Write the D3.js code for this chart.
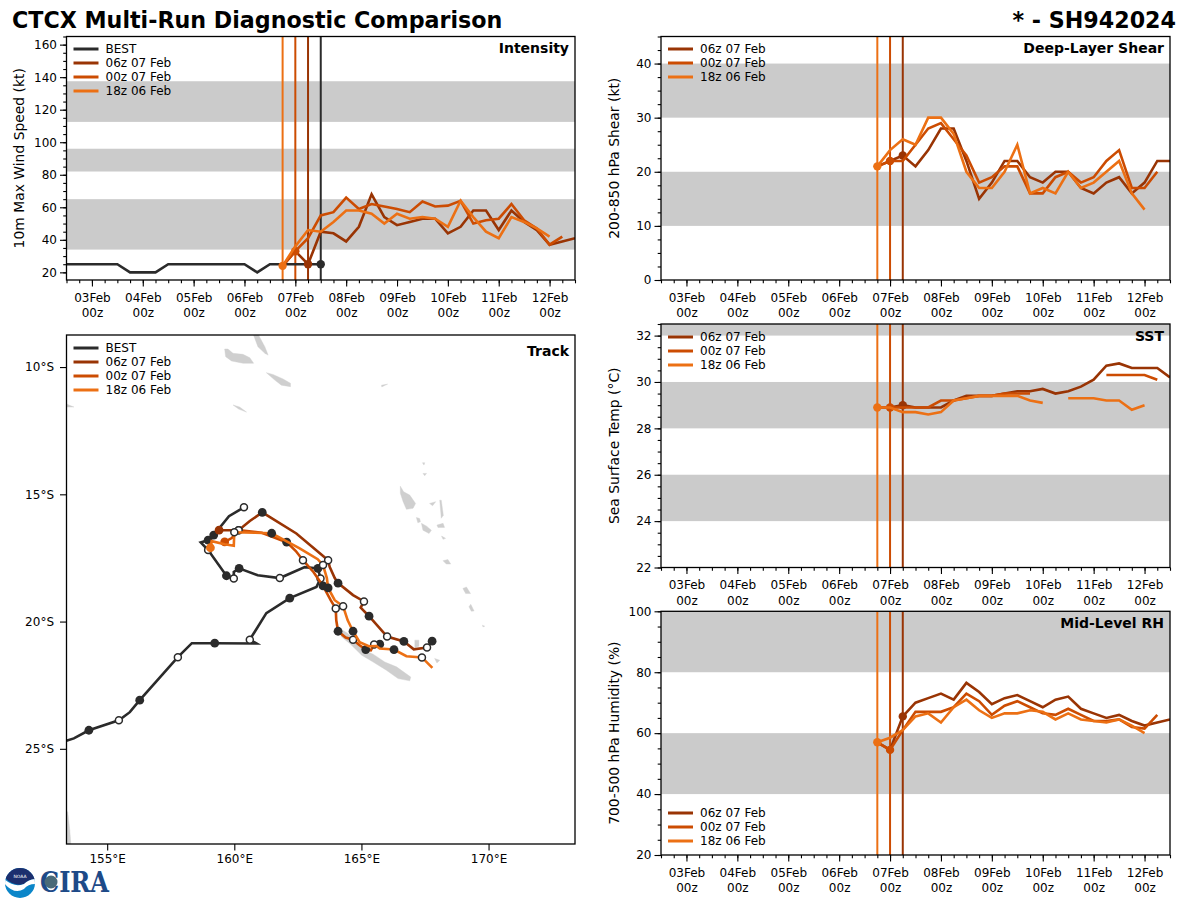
<!DOCTYPE html>
<html><head><meta charset="utf-8">
<script src="https://cdn.jsdelivr.net/npm/d3@7"></script>
<style>
html,body{margin:0;padding:0;background:#fff}
svg{display:block}
text{font-family:"DejaVu Sans",sans-serif;fill:#000}
</style></head><body><div id="chart"></div>
<script>
// ---------- labels ----------
const runNames = ["06z 07 Feb","00z 07 Feb","18z 06 Feb"];
const runColors = ["#993404","#cc4c02","#ec7014"];
const bestName = "BEST", bestColor = "#2b2b2b";
const mainTitle = "CTCX Multi-Run Diagnostic Comparison", stormTitle = "* - SH942024";
const dayTicks = ["2024-02-03","2024-02-04","2024-02-05","2024-02-06","2024-02-07","2024-02-08","2024-02-09","2024-02-10","2024-02-11","2024-02-12"];
const timeDomain = ["2024-02-02T12:00Z","2024-02-12T12:00Z"];
const runInit = ["2024-02-07T06:00Z","2024-02-07T00:00Z","2024-02-06T18:00Z"];
const seriesStart = "2024-02-06T18:00Z";
const bestStart = "2024-02-02T12:00Z";

// ---------- intensity (kt), 6-hourly ----------
const bestWind = [25,25,25,25,25,20,20,20,25,25,25,25,25,25,25,20,25,25,25,25,25];
const wind06 = [24,33,25,45,44,39,48,68,54,49,51,53,53,44,48,58,58,46,58,51,46,37,39,41];
const wind00 = [24,33,41,55,57,66,59,62,60.5,59,57,63.5,60.5,61,64,50,52,53,62,52,47,37,42];
const wind18 = [24,36,46,45,51,58,58,56,50,56,53,54,53,48,64,54,45,41,54,51,47,42];
const windBands = [[34,65],[82,96],[112.5,137.5]];
// ---------- shear (kt) ----------
const shear06 = [21,22,23,21,24,28,28,22,15,18,22,22,19,18,20,20,17,16,18,19,16,18,22,22];
const shear00 = [21,22,22,25,28,29,26,23,18,19,21,21,16,16,19,20,18,19,22,24,17,17,20];
const shear18 = [21,24,26,25,30,30,27,20,17,17,20,25,16,17,16,20,17,18,20,22,16,13];
const shearBands = [[10,20],[30,40]];
// ---------- SST (C) ----------
const sst06 = [28.9,28.9,29.0,28.9,28.9,28.9,29.2,29.4,29.4,29.4,29.5,29.6,29.6,29.7,29.5,29.6,29.8,30.1,30.7,30.8,30.6,30.6,30.6,30.2];
const sst00 = [28.9,28.9,28.9,28.9,28.9,29.2,29.2,29.3,29.4,29.4,29.5,29.5,29.5,null,null,null,null,null,30.3,30.3,30.3,30.3,30.1];
const sst18 = [28.9,28.9,28.7,28.7,28.6,28.7,29.2,29.3,29.4,29.4,29.4,29.4,29.2,29.1,null,29.3,29.3,29.3,29.2,29.2,28.8,29.0];
const sstBands = [[24,26],[28,30],[32,34]];
// ---------- RH (%) ----------
const rh06 = [57,54.5,65.5,70,71.5,73,71,76.5,73.5,69.5,71.5,72.5,70.5,68.5,71,72,68,66.5,65,66,64,62.5,63.5,64.5];
const rh00 = [57,54.5,61,67,67,67,68.5,73,70.5,66,69,70.5,68.5,66.5,66,68,66,64,64,64.5,62,61.5,66];
const rh18 = [57,58.5,61,65.5,66.5,63.5,68.5,71,67.5,65,66.5,66.5,67.5,67,64.5,66.5,64.5,64,63.5,64.5,62.5,60];
const rhBands = [[40,60],[80,100]];

// ---------- tracks: lon, lat, marker (0 none, 1 filled, 2 open, 3 run start) ----------
const bestLon = [153.2,153.69,154.28,155.46,155.89,156.28,157.78,158.33,159.23,160.87,160.61,161.26,162.18,163.23,163.39,163.29,162.77,161.79,160.92,160.19,159.98,159.98,159.69,158.97,158.68,158.97,159.19,159.79,160.38];
const bestLat = [-24.74,-24.59,-24.27,-23.88,-23.56,-23.09,-21.40,-20.85,-20.85,-20.86,-20.71,-19.67,-19.08,-18.64,-18.31,-17.91,-17.86,-18.29,-18.18,-17.91,-18.05,-18.31,-18.20,-17.19,-16.89,-16.80,-16.60,-15.86,-15.51];
const bestMark = [0,0,1,2,0,1,2,0,1,0,2,0,1,0,2,1,0,2,0,1,0,2,1,2,0,1,1,0,2];

const track06Lon = [159.40,159.90,160.17,160.61,161.10,162.44,163.69,163.75,163.95,164.08,164.67,165.10,164.97,165.30,166.01,166.67,167.06,167.58,167.78];
const track06Lat = [-16.41,-16.41,-16.41,-16.05,-15.71,-16.54,-17.59,-17.85,-18.29,-18.49,-18.96,-19.21,-19.45,-19.79,-20.59,-20.78,-21.09,-21.02,-20.77];
const track06Mark = [3,0,2,0,1,0,2,0,0,1,0,2,0,1,2,1,0,2,1];

const track00Lon = [159.62,159.90,160.17,161.08,162.06,162.42,162.70,163.12,163.49,163.79,163.99,164.01,164.08,164.38,164.67,164.93,165.17,165.37,165.50,165.72];
const track00Lat = [-16.87,-16.72,-16.41,-16.51,-16.88,-17.23,-17.59,-18.06,-18.60,-19.16,-19.49,-19.95,-20.38,-20.63,-20.71,-20.93,-21.10,-21.13,-20.90,-20.89];
const track00Mark = [3,0,2,0,1,0,2,0,1,0,2,0,1,0,2,0,1,0,2,1];

const track18Lon = [159.06,159.11,159.62,159.98,160.00,160.80,161.47,162.57,163.28,163.49,163.64,163.69,163.95,164.28,164.46,164.67,164.93,165.29,165.59,165.72,166.28,166.77,167.38,167.79];
const track18Lat = [-17.10,-16.84,-16.96,-17.02,-16.49,-16.51,-16.53,-17.12,-17.55,-17.78,-18.29,-18.68,-19.16,-19.40,-19.95,-20.38,-20.81,-20.97,-20.96,-21.06,-21.10,-21.36,-21.41,-21.82];
const track18Mark = [3,0,0,0,2,0,1,0,0,2,0,1,0,2,0,1,0,0,0,0,1,0,2,0];

// ---------- background land outlines (lon, lat) ----------
const landOutlines = [
 [[159.62,-9.29],[159.75,-9.29],[159.95,-9.46],[160.34,-9.50],[160.61,-9.63],[160.76,-9.85],[160.34,-9.85],[159.89,-9.76],[159.66,-9.59]],
 [[160.74,-8.70],[160.93,-8.70],[161.20,-9.20],[161.33,-9.53],[161.20,-9.46],[160.93,-9.20]],
 [[161.26,-10.22],[161.52,-10.29],[161.92,-10.47],[162.21,-10.64],[162.21,-10.77],[161.85,-10.71],[161.59,-10.51]],
 [[165.79,-10.71],[166.03,-10.67],[165.80,-10.78]],
 [[159.95,-11.49],[160.21,-11.57],[160.48,-11.77],[160.17,-11.65]],
 [[153.40,-11.45],[153.69,-11.57],[153.40,-11.57]],
 [[166.53,-14.68],[166.66,-14.90],[166.90,-15.03],[167.13,-15.36],[167.03,-15.55],[166.77,-15.59],[166.64,-15.29],[166.53,-14.96]],
 [[167.16,-15.91],[167.29,-15.95],[167.32,-16.08],[167.22,-16.12]],
 [[167.36,-16.14],[167.56,-16.25],[167.75,-16.41],[167.66,-16.54],[167.42,-16.41]],
 [[167.68,-15.36],[167.92,-15.29],[167.80,-15.45]],
 [[167.97,-16.21],[168.21,-16.14],[168.27,-16.30],[168.01,-16.30]],
 [[168.15,-16.64],[168.31,-16.73],[168.21,-16.77]],
 [[168.21,-17.61],[168.40,-17.56],[168.51,-17.74],[168.34,-17.74]],
 [[168.99,-18.70],[169.13,-18.64],[169.29,-18.90],[169.10,-18.90]],
 [[169.23,-19.42],[169.30,-19.32],[169.43,-19.58],[169.32,-19.59]],
 [[169.76,-20.14],[169.85,-20.18],[169.78,-20.21]],
 [[167.40,-13.76],[167.49,-13.76],[167.46,-13.85]],
 [[167.42,-14.18],[167.56,-14.18],[167.49,-14.27]],
 [[168.08,-15.23],[168.14,-15.23],[168.22,-15.82],[168.14,-15.94]],
 [[164.15,-20.27],[164.47,-20.47],[164.87,-20.86],[165.13,-21.13],[165.46,-21.28],[165.92,-21.59],[166.38,-21.78],[166.94,-22.18],[166.90,-22.33],[166.44,-22.24],[165.98,-21.91],[165.46,-21.59],[165.01,-21.32],[164.54,-20.86],[164.21,-20.60]],
 [[167.10,-20.73],[167.26,-20.73],[167.26,-20.97],[167.10,-21.02]],
 [[167.88,-21.45],[168.08,-21.52],[167.97,-21.63]],
 [[153.40,-27.42],[153.45,-27.50],[153.53,-28.20],[153.57,-28.74],[153.40,-28.74]]
];
const lonTicks = [155,160,165,170];
const latTicks = [-10,-15,-20,-25];

// ---------- drawing ----------
const W=1200,H=900,FONT_TICK=12,FONT_LABEL=13.9,LW=2.6;
const svg=d3.select("#chart").append("svg").attr("width",W).attr("height",H);
const parseT=s=>new Date(s);
const x0=parseT(timeDomain[0]),x1=parseT(timeDomain[1]);
const sixH=6*3600*1000;
const minorT=d3.range(0,41).map(i=>new Date(+x0+i*sixH));
const majorT=dayTicks.map(d=>new Date(d+"T00:00Z"));
const fmtDay=d3.utcFormat("%d%b");

function legend(g,names,colors,px,py){
  names.forEach((n,i)=>{
    const y=py+i*14;
    g.append("line").attr("x1",px).attr("x2",px+25).attr("y1",y).attr("y2",y).attr("stroke",colors[i]).attr("stroke-width",3);
    g.append("text").attr("x",px+32).attr("y",y+4.3).attr("font-size",12).text(n);
  });
}
function styleAxis(a){
  a.select(".domain").remove();
  a.selectAll("line").attr("stroke","#000").attr("stroke-width",1.1);
  a.selectAll("text").attr("font-size",FONT_TICK).attr("fill","#000").style("font-family",'"DejaVu Sans",sans-serif');
}
function panelTime(cfg){
  const {l,t,w,h,domain,yTicks,yMinor,bands,series,ylabel,title,legendOrigin,best,clip}=cfg;
  const x=d3.scaleUtc().domain([x0,x1]).range([l,l+w]);
  const y=d3.scaleLinear().domain(domain).range([t+h,t]);
  const g=svg.append("g");
  const cid="clip"+clip;
  g.append("clipPath").attr("id",cid).append("rect").attr("x",l).attr("y",t).attr("width",w).attr("height",h);
  const plot=g.append("g").attr("clip-path",`url(#${cid})`);
  plot.selectAll("rect.band").data(bands).join("rect").attr("class","band")
    .attr("x",l).attr("width",w).attr("y",d=>y(d[1])).attr("height",d=>y(d[0])-y(d[1])).attr("fill","#cbcbcb");
  const vl=[...runInit.map((s,i)=>({t:parseT(s),c:runColors[i]}))];
  if(best) vl.unshift({t:parseT(best.end),c:bestColor});
  vl.slice().reverse().forEach(v=>plot.append("line").attr("x1",x(v.t)).attr("x2",x(v.t)).attr("y1",t).attr("y2",t+h).attr("stroke",v.c).attr("stroke-width",2));
  const line=d3.line().defined(d=>d.v!==null).x(d=>x(d.t)).y(d=>y(d.v));
  const toPts=(arr,start)=>arr.map((v,i)=>({t:new Date(+parseT(start)+i*sixH),v}));
  if(best){
    plot.append("path").attr("d",line(toPts(best.values,bestStart))).attr("fill","none").attr("stroke",bestColor).attr("stroke-width",LW);
    const p=toPts(best.values,bestStart).slice(-1)[0];
    plot.append("circle").attr("cx",x(p.t)).attr("cy",y(p.v)).attr("r",4.2).attr("fill",bestColor);
  }
  series.forEach((arr,i)=>{
    const pts=toPts(arr,seriesStart);
    plot.append("path").attr("d",line(pts)).attr("fill","none").attr("stroke",runColors[i]).attr("stroke-width",LW).attr("stroke-linejoin","miter");
    const it=parseT(runInit[i]);
    const p=pts.find(q=>+q.t===+it);
    plot.append("circle").attr("cx",x(p.t)).attr("cy",y(p.v)).attr("r",4.2).attr("fill",runColors[i]);
  });
  const ax=g.append("g").attr("transform",`translate(0,${t+h})`).call(d3.axisBottom(x).tickValues(majorT).tickSize(6.5).tickFormat(fmtDay));
  styleAxis(ax);
  ax.selectAll("text").attr("y",0).attr("dy",0).each(function(d){
    const sel=d3.select(this);sel.text(null);
    sel.append("tspan").attr("x",0).attr("y",21.5).text(fmtDay(d));
    sel.append("tspan").attr("x",0).attr("y",37).text("00z");
  });
  const axm=g.append("g").attr("transform",`translate(0,${t+h})`).call(d3.axisBottom(x).tickValues(minorT).tickSize(3.3).tickFormat(""));
  styleAxis(axm);
  const ay=g.append("g").attr("transform",`translate(${l},0)`).call(d3.axisLeft(y).tickValues(yTicks).tickSize(6.5).tickPadding(3));
  styleAxis(ay);
  const aym=g.append("g").attr("transform",`translate(${l},0)`).call(d3.axisLeft(y).tickValues(yMinor).tickSize(3.3).tickFormat(""));
  styleAxis(aym);
  g.append("rect").attr("x",l).attr("y",t).attr("width",w).attr("height",h).attr("fill","none").attr("stroke","#000").attr("stroke-width",1.3);
  g.append("text").attr("transform",`translate(${l-42.5},${t+h/2}) rotate(-90)`).attr("text-anchor","middle").attr("font-size",FONT_LABEL).text(ylabel);
  g.append("text").attr("x",l+w-6).attr("y",t+16.5).attr("text-anchor","end").attr("font-size",14).attr("font-weight","bold").text(title);
  const names=best?[bestName,...runNames]:runNames, cols=best?[bestColor,...runColors]:runColors;
  legend(g,names,cols,l+7,legendOrigin);
}
const mins=(a,b,s)=>d3.range(a,b+1e-6,s);
panelTime({clip:1,l:66.5,t:36.5,w:508.5,h:243.5,domain:[15.3,165],yTicks:d3.range(20,161,20),yMinor:mins(20,165,5),bands:windBands,series:[wind06,wind00,wind18],ylabel:"10m Max Wind Speed (kt)",title:"Intensity",legendOrigin:49,best:{values:bestWind,end:"2024-02-07T12:00Z"}});
panelTime({clip:2,l:661,t:36.5,w:509,h:243.5,domain:[0,45],yTicks:d3.range(0,41,10),yMinor:mins(0,45,2.5),bands:shearBands,series:[shear06,shear00,shear18],ylabel:"200-850 hPa Shear (kt)",title:"Deep-Layer Shear",legendOrigin:49});
panelTime({clip:3,l:661,t:324,w:509,h:243.5,domain:[22,32.5],yTicks:d3.range(22,33,2),yMinor:mins(22,32.5,0.5),bands:sstBands,series:[sst06,sst00,sst18],ylabel:"Sea Surface Temp (°C)",title:"SST",legendOrigin:337});
panelTime({clip:4,l:661,t:611.3,w:509,h:243.7,domain:[20,100],yTicks:d3.range(20,101,20),yMinor:mins(20,100,5),bands:rhBands,series:[rh06,rh00,rh18],ylabel:"700-500 hPa Humidity (%)",title:"Mid-Level RH",legendOrigin:813});

// track panel
(function(){
  const l=66.5,t=335,w=508.5,h=509;
  const x=d3.scaleLinear().domain([153.4,173.4]).range([l,l+w]);
  const y=d3.scaleLinear().domain([-28.74,-8.74]).range([t+h,t]);
  const g=svg.append("g");
  g.append("clipPath").attr("id","clipT").append("rect").attr("x",l).attr("y",t).attr("width",w).attr("height",h);
  const plot=g.append("g").attr("clip-path","url(#clipT)");
  const land=d3.line().x(d=>x(d[0])).y(d=>y(d[1])).curve(d3.curveLinearClosed);
  plot.selectAll("path.land").data(landOutlines).join("path").attr("class","land").attr("d",land).attr("fill","#cfcfcf").attr("stroke","#cfcfcf").attr("stroke-width",.4);
  const tracks=[
    {lon:bestLon,lat:bestLat,mark:bestMark,c:bestColor},
    {lon:track06Lon,lat:track06Lat,mark:track06Mark,c:runColors[0]},
    {lon:track00Lon,lat:track00Lat,mark:track00Mark,c:runColors[1]},
    {lon:track18Lon,lat:track18Lat,mark:track18Mark,c:runColors[2]}
  ];
  const ln=d3.line().x(d=>x(d.lon)).y(d=>y(d.lat));
  tracks.forEach(T=>{
    const pts=T.lon.map((v,i)=>({lon:v,lat:T.lat[i],m:T.mark[i]}));
    plot.append("path").attr("d",ln(pts)).attr("fill","none").attr("stroke",T.c).attr("stroke-width",LW);
    plot.selectAll(null).data(pts.filter(p=>p.m===1)).join("circle").attr("cx",p=>x(p.lon)).attr("cy",p=>y(p.lat)).attr("r",4.4).attr("fill",bestColor);
    plot.selectAll(null).data(pts.filter(p=>p.m===2)).join("circle").attr("cx",p=>x(p.lon)).attr("cy",p=>y(p.lat)).attr("r",3.5).attr("fill","#fff").attr("stroke",bestColor).attr("stroke-width",1.5);
    plot.selectAll(null).data(pts.filter(p=>p.m===3)).join("circle").attr("cx",p=>x(p.lon)).attr("cy",p=>y(p.lat)).attr("r",4.4).attr("fill",T.c);
  });
  const ax=g.append("g").attr("transform",`translate(0,${t+h})`).call(d3.axisBottom(x).tickValues(lonTicks).tickSize(6.5).tickPadding(4).tickFormat(d=>d+"°E"));
  styleAxis(ax);
  const ay=g.append("g").attr("transform",`translate(${l},0)`).call(d3.axisLeft(y).tickValues(latTicks).tickSize(6.5).tickPadding(6).tickFormat(d=>(-d)+"°S"));
  styleAxis(ay);
  g.append("rect").attr("x",l).attr("y",t).attr("width",w).attr("height",h).attr("fill","none").attr("stroke","#000").attr("stroke-width",1.3);
  g.append("text").attr("x",l+w-6).attr("y",t+21).attr("text-anchor","end").attr("font-size",14).attr("font-weight","bold").text("Track");
  legend(g,[bestName,...runNames],[bestColor,...runColors],l+7,348);
})();

// titles
svg.append("text").attr("x",12).attr("y",28).attr("font-size",22.2).attr("font-weight","bold").text(mainTitle);
svg.append("text").attr("x",1176).attr("y",28).attr("text-anchor","end").attr("font-size",22.2).attr("font-weight","bold").text(stormTitle);

// logos
(function(){
  const g=svg.append("g");
  g.append("clipPath").attr("id","noaaClip").append("circle").attr("cx",20).attr("cy",883).attr("r",15);
  const lg=g.append("g").attr("clip-path","url(#noaaClip)");
  lg.append("rect").attr("x",5).attr("y",868).attr("width",30).attr("height",30).attr("fill","#0b86c9");
  lg.append("path").attr("d","M0 860H40V879Q30 878 24 884Q14 887 5 878Z").attr("fill","#1c2f6e");
  lg.append("path").attr("d","M4 879Q14 888 24 884Q29 879 36 879L35 884Q28 884 24 889Q14 895 4 883Z").attr("fill","#fff");
  g.append("text").attr("x",20).attr("y",878).attr("text-anchor","middle").attr("font-size",4.5).style("fill","#fff").text("NOAA");
  g.append("text").attr("x",40).attr("y",892).attr("font-size",28).attr("font-weight","bold").attr("textLength",69).attr("lengthAdjust","spacingAndGlyphs").style("font-family",'"DejaVu Serif",serif').style("fill","#1d4a88").text("CIRA");
  g.append("circle").attr("cx",51).attr("cy",882).attr("r",6.5).attr("fill","#4a6a78");
})();
</script></body></html>
